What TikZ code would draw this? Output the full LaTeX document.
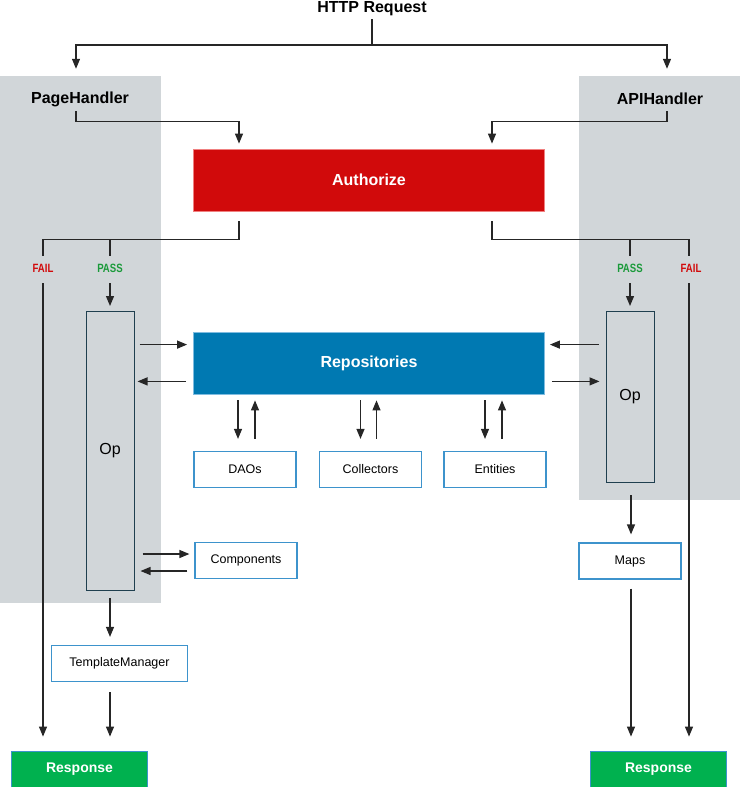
\documentclass[tikz,border=0pt]{standalone}
\usepackage{fontspec}
\setmainfont{Liberation Sans}
\newfontfamily\narrowfont[FakeStretch=0.8]{Liberation Sans}
\usetikzlibrary{arrows.meta}

\begin{document}
\begin{tikzpicture}[x=1pt,y=-1pt,
    flecha/.style={draw=black!85,line width=1.2pt,-{Triangle[length=10pt,width=8pt]}},
    linea/.style={draw=black!85,line width=1.2pt},
    titulo/.style={font=\bfseries\fontsize{16}{18}\selectfont,inner sep=0pt,minimum height=20pt},
    bloque/.style={inner sep=0pt,line width=0.8pt,minimum width=351pt,minimum height=62pt,text=white,font=\bfseries\fontsize{16}{18}\selectfont},
    caja/.style={draw=cajaborde,line width=1.2pt,fill=white,inner sep=0pt,minimum height=36pt,minimum width=102pt,font=\fontsize{12.5}{14}\selectfont},
    op/.style={draw=opborde,line width=1pt,fill=gris,inner sep=0pt,minimum width=48pt,font=\fontsize{16}{18}\selectfont},
    resp/.style={fill=verde,draw=cajaborde,line width=0.8pt,minimum width=136pt,minimum height=36pt,inner sep=0pt,text=white,font=\bfseries\fontsize{14}{16}\selectfont},
    estado/.style={inner sep=0pt,minimum height=24pt,font=\narrowfont\bfseries\fontsize{12}{14}\selectfont}]
    %colores
    \definecolor{gris}{HTML}{D1D6D9}
    \definecolor{rojo}{HTML}{D10A0B}
    \definecolor{rojoborde}{HTML}{F08080}
    \definecolor{azul}{HTML}{0079B2}
    \definecolor{azulborde}{HTML}{7FBCE0}
    \definecolor{verde}{HTML}{00B14F}
    \definecolor{verdeT}{HTML}{1A9A3A}
    \definecolor{cajaborde}{HTML}{3D93CC}
    \definecolor{opborde}{HTML}{1F3F4F}

    \useasboundingbox (0,0) rectangle (740,787);

    % paneles de fondo
    \fill[gris] (0,76) rectangle (161,603);
    \fill[gris] (579,76) rectangle (740,500);

    % entrada y handlers
    \node[titulo] (http) at (372,9) {HTTP Request};
    \node[titulo] (page) at (80,99) {PageHandler};
    \node[titulo] (api) at (660,99) {APIHandler};

    % bloques centrales
    \node[bloque,fill=rojo,draw=rojoborde] (auth) at (369,180) {Authorize};
    \node[bloque,fill=azul,draw=azulborde] (repo) at (369,363) {Repositories};

    % operaciones
    \node[op,minimum height=279pt] (opL) at (110,451) {Op};
    \node[op,minimum height=171pt] (opR) at (630,397) {Op};

    % estados
    \node[estado,text=rojo] (failL) at (43,268) {FAIL};
    \node[estado,text=verdeT] (passL) at (110,268) {PASS};
    \node[estado,text=verdeT] (passR) at (630,268) {PASS};
    \node[estado,text=rojo] (failR) at (691,268) {FAIL};

    % cajas pequenas
    \node[caja] (daos) at (245,469.5) {DAOs};
    \node[caja] (coll) at (370.5,469.5) {Collectors};
    \node[caja] (ent) at (495,469.5) {Entities};
    \node[caja] (comp) at (246,560.5) {Components};
    \node[caja,minimum width=136pt] (tmpl) at (119.5,663.5) {TemplateManager};
    \node[caja] (maps) at (630,561) {Maps};

    % respuestas
    \node[resp] (respL) at (79.5,769) {Response};
    \node[resp] (respR) at (658.5,769) {Response};

    % request -> handlers
    \coordinate (split) at (372,45);
    \draw[linea] (http.south) -- (split);
    \draw[flecha,shorten >=20pt] (split) -| ([xshift=-4pt]page.north);
    \draw[flecha,shorten >=20pt] (split) -| ([xshift=7pt]api.north);

    % handlers -> authorize
    \draw[flecha,shorten <=2pt,shorten >=5pt] ([xshift=-4pt]page.south) -- ++(0,12) -| ([xshift=-130pt]auth.north);
    \draw[flecha,shorten <=2pt,shorten >=5pt] ([xshift=7pt]api.south) -- ++(0,12) -| ([xshift=123pt]auth.north);

    % authorize -> pass/fail
    \draw[linea,shorten <=10pt] ([xshift=-130pt]auth.south) -- ++(0,28) -| (failL.north);
    \draw[linea] (passL.north) -- ++(0,-17);
    \draw[linea,shorten <=10pt] ([xshift=123pt]auth.south) -- ++(0,28) -| ([xshift=-2pt]failR.north);
    \draw[linea] (passR.north) -- ++(0,-17);

    % fail -> response
    \draw[flecha,shorten <=3pt,shorten >=14pt] (failL.south) -- (failL.south |- respL.north);
    \draw[flecha,shorten <=3pt,shorten >=14pt] ([xshift=-2pt]failR.south) -- ([xshift=-2pt]failR.south |- respR.north);

    % pass -> op
    \draw[flecha,shorten <=3pt,shorten >=5pt] (passL.south) -- (opL.north);
    \draw[flecha,shorten <=3pt,shorten >=5pt] (passR.south) -- (opR.north);

    % op <-> repositories
    \draw[flecha,shorten <=5pt,shorten >=6pt] ([yshift=-13pt]repo.north -| opL.east) -- ([yshift=-13pt]repo.north west);
    \draw[flecha,shorten <=7pt,shorten >=3pt] ([yshift=13pt]repo.south west) -- ([yshift=13pt]repo.south -| opL.east);
    \draw[flecha,shorten <=7pt,shorten >=5pt] ([yshift=-13pt]repo.north -| opR.west) -- ([yshift=-13pt]repo.north east);
    \draw[flecha,shorten <=7pt,shorten >=6pt] ([yshift=13pt]repo.south east) -- ([yshift=13pt]repo.south -| opR.west);

    % repositories <-> cajas
    \foreach \c/\a/\b in {daos/-7/10,coll/-10/6,ent/-10/7}{
        \draw[flecha,shorten <=6pt,shorten >=12pt] ([xshift=\a pt]\c.north |- repo.south) -- ([xshift=\a pt]\c.north);
        \draw[flecha,shorten <=12pt,shorten >=6pt] ([xshift=\b pt]\c.north) -- ([xshift=\b pt]\c.north |- repo.south);
    }

    % op <-> components
    \draw[flecha,shorten <=8pt,shorten >=5pt] ([yshift=6.5pt]comp.west -| opL.east) -- ([yshift=6.5pt]comp.west);
    \draw[flecha,shorten <=7pt,shorten >=6pt] ([yshift=-10.5pt]comp.west) -- ([yshift=-10.5pt]comp.west -| opL.east);

    % salida izquierda
    \draw[flecha,shorten <=7pt,shorten >=8pt] (opL.south) -- (opL.south |- tmpl.north);
    \draw[flecha,shorten <=10pt,shorten >=14pt] (opL.south |- tmpl.south) -- (opL.south |- respL.north);

    % salida derecha
    \draw[flecha,shorten <=12pt,shorten >=8pt] ([xshift=1pt]opR.south) -- ([xshift=1pt]opR.south |- maps.north);
    \draw[flecha,shorten <=9pt,shorten >=14pt] ([xshift=1pt]maps.south) -- ([xshift=1pt]maps.south |- respR.north);
\end{tikzpicture}
\end{document}
